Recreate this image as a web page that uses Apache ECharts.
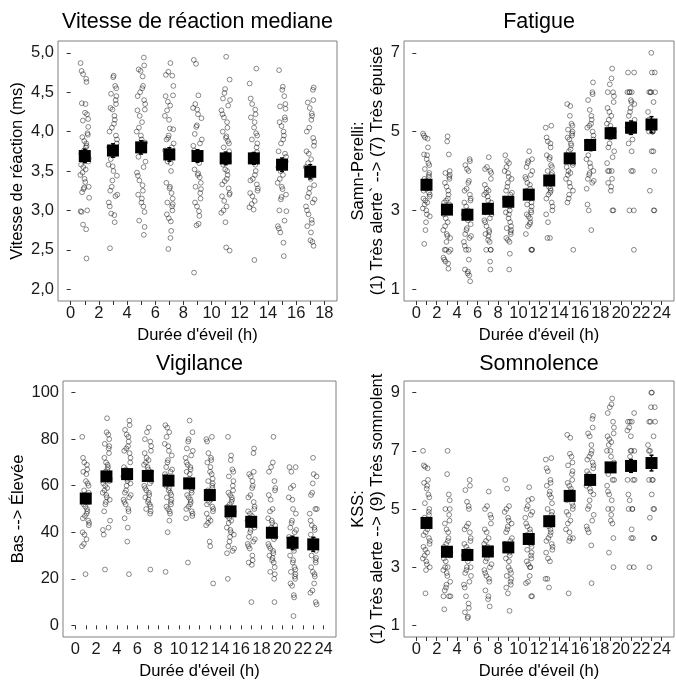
<!DOCTYPE html>
<html>
<head>
<meta charset="utf-8">
<script src="https://cdn.jsdelivr.net/npm/echarts@6/dist/echarts.min.js"></script>
<style>html,body{margin:0;padding:0;background:#fff}#c{width:676px;height:681px}</style>
</head>
<body>
<div id="c"></div>
<script>
// ---------- DATA ----------
const hoursRT = [1, 3, 5, 7, 9, 11, 13, 15, 17];
const hours = [1, 3, 5, 7, 9, 11, 13, 15, 17, 19, 21, 23];

const rtMean = [3.69, 3.76, 3.80, 3.71, 3.69, 3.66, 3.66, 3.58, 3.49];
const rtSem = [0.085, 0.085, 0.085, 0.085, 0.08, 0.08, 0.075, 0.085, 0.09];
const rtPoints = [
  [4.87,4.77,4.73,4.67,4.63,4.36,4.35,4.24,4.22,4.16,4.14,4.06,3.98,3.96,3.93,3.88,3.85,3.82,3.80,3.76,3.72,3.70,3.66,3.62,3.58,3.55,3.52,3.48,3.45,3.40,3.36,3.30,3.29,3.27,3.23,3.16,3.00,2.99,2.98,2.82,2.76,2.39],
  [4.71,4.69,4.58,4.55,4.48,4.45,4.40,4.35,4.30,4.28,4.20,4.15,4.10,4.05,4.00,3.95,3.90,3.85,3.80,3.75,3.70,3.65,3.58,3.56,3.50,3.44,3.38,3.30,3.25,3.20,3.18,3.10,3.05,2.96,2.94,2.85,2.52],
  [4.94,4.84,4.79,4.77,4.70,4.58,4.55,4.50,4.45,4.40,4.35,4.28,4.27,4.20,4.12,4.05,4.00,3.95,3.90,3.86,3.82,3.75,3.68,3.62,3.55,3.48,3.44,3.38,3.32,3.25,3.20,3.15,3.10,3.05,2.98,2.87,2.79,2.69],
  [4.87,4.76,4.72,4.71,4.58,4.46,4.45,4.38,4.33,4.27,4.20,4.15,4.04,4.03,3.95,3.92,3.90,3.85,3.80,3.76,3.70,3.62,3.60,3.50,3.35,3.30,3.28,3.22,3.15,3.10,3.08,3.05,3.00,2.95,2.90,2.86,2.74,2.65,2.51],
  [4.91,4.86,4.46,4.35,4.30,4.28,4.22,4.17,4.08,4.06,3.97,3.90,3.85,3.82,3.76,3.70,3.65,3.60,3.52,3.47,3.45,3.42,3.35,3.30,3.27,3.22,3.15,3.10,3.05,2.99,2.93,2.83,2.81,2.21],
  [4.95,4.66,4.54,4.49,4.42,4.40,4.33,4.27,4.22,4.18,4.12,4.05,4.00,3.94,3.92,3.88,3.85,3.80,3.75,3.70,3.62,3.58,3.52,3.50,3.45,3.40,3.37,3.33,3.28,3.22,3.20,3.18,3.12,3.05,3.00,2.97,2.85,2.53,2.49],
  [4.80,4.61,4.42,4.35,4.28,4.22,4.18,4.12,4.05,3.98,3.95,3.90,3.85,3.80,3.74,3.70,3.63,3.58,3.50,3.45,3.40,3.38,3.33,3.28,3.25,3.22,3.18,3.12,3.08,3.04,3.01,2.37],
  [4.78,4.57,4.53,4.45,4.35,4.32,4.29,4.18,4.15,4.12,4.07,4.00,3.95,3.90,3.85,3.75,3.72,3.68,3.62,3.55,3.50,3.45,3.40,3.35,3.30,3.27,3.20,3.17,3.14,3.00,2.99,2.87,2.80,2.77,2.72,2.59,2.42],
  [4.56,4.53,4.40,4.37,4.30,4.23,4.20,4.15,4.05,4.00,3.92,3.87,3.82,3.75,3.72,3.65,3.60,3.55,3.48,3.40,3.32,3.28,3.22,3.17,3.14,3.10,3.05,3.00,2.95,2.88,2.84,2.80,2.72,2.62,2.60,2.55]
];

const fatMean = [3.65, 3.02, 2.89, 3.04, 3.22, 3.40, 3.76, 4.32, 4.66, 4.96, 5.10, 5.18];
const fatSem = [0.1, 0.1, 0.1, 0.1, 0.1, 0.1, 0.1, 0.11, 0.13, 0.14, 0.17, 0.2];
const fatPoints = [
  [4.95,4.90,4.85,4.82,4.60,4.42,4.40,4.30,4.20,4.15,4.05,3.95,3.90,3.85,3.80,3.75,3.70,3.65,3.60,3.55,3.50,3.45,3.40,3.35,3.30,3.25,3.20,3.15,3.05,3.00,2.90,2.85,2.70,2.50,2.15],
  [4.88,4.75,4.42,4.00,3.95,3.90,3.85,3.80,3.70,3.60,3.50,3.40,3.30,3.25,3.20,3.15,3.10,3.00,2.90,2.80,2.70,2.60,2.50,2.40,2.35,2.30,2.20,2.00,2.00,2.00,1.95,1.80,1.75,1.70,1.65,1.52],
  [4.30,4.25,4.15,4.05,4.00,3.75,3.70,3.55,3.50,3.40,3.30,3.25,3.20,3.10,3.00,2.95,2.90,2.80,2.75,2.65,2.55,2.50,2.40,2.35,2.30,2.20,2.10,2.00,2.00,1.75,1.50,1.45,1.40,1.35,1.20],
  [4.35,4.10,4.05,4.00,3.95,3.80,3.65,3.55,3.50,3.45,3.40,3.35,3.25,3.20,3.10,3.00,2.95,2.90,2.80,2.75,2.70,2.60,2.50,2.45,2.40,2.35,2.25,2.20,2.00,2.00,2.00,1.70,1.50],
  [4.40,4.25,4.20,4.10,4.00,3.95,3.85,3.80,3.70,3.60,3.50,3.45,3.40,3.30,3.25,3.20,3.10,3.00,2.95,2.90,2.80,2.70,2.60,2.55,2.50,2.45,2.40,2.30,2.25,2.20,1.90,1.50],
  [4.50,4.30,4.25,4.20,4.10,4.00,3.90,3.85,3.80,3.70,3.65,3.55,3.50,3.40,3.35,3.30,3.20,3.15,3.10,3.00,2.95,2.90,2.85,2.80,2.70,2.65,2.60,2.40,2.00,2.00,2.00],
  [5.15,5.10,4.85,4.75,4.70,4.60,4.40,4.35,4.30,4.15,4.10,4.00,3.95,3.90,3.80,3.70,3.60,3.55,3.50,3.45,3.40,3.30,3.20,3.10,3.00,2.90,2.70,2.30,2.30],
  [5.70,5.65,5.40,5.20,5.15,5.05,5.00,4.95,4.90,4.85,4.80,4.70,4.65,4.55,4.50,4.40,4.30,4.20,4.15,4.10,4.00,3.95,3.90,3.80,3.70,3.60,3.50,3.40,3.30,3.20,2.00],
  [6.25,6.00,5.95,5.80,5.55,5.40,5.30,5.20,5.15,5.10,5.00,4.90,4.80,4.75,4.65,4.55,4.40,4.30,4.20,4.10,4.00,3.95,3.90,3.80,3.75,3.70,3.55,3.15,3.00,2.50],
  [6.60,6.35,6.20,6.00,6.00,5.90,5.75,5.60,5.50,5.40,5.30,5.20,5.15,5.05,5.00,4.85,4.70,4.60,4.50,4.35,4.20,4.00,4.00,4.00,3.80,3.70,3.60,3.50,3.00,3.00],
  [6.50,6.50,6.00,6.00,6.00,6.00,5.80,5.75,5.70,5.60,5.50,5.40,5.30,5.20,5.10,5.00,5.00,5.00,4.80,4.70,4.50,4.00,4.00,3.00,3.00,2.00],
  [7.00,6.50,6.50,6.00,6.00,6.00,6.00,5.75,5.50,5.30,5.20,5.00,5.00,5.00,5.00,4.50,4.50,4.00,3.50,3.00,3.00]
];

const vigMean = [54.5, 64.0, 65.0, 64.2, 62.2, 61.0, 56.0, 49.0, 44.5, 39.8, 35.5, 34.8];
const vigSem = [1.6, 1.6, 1.7, 1.5, 1.6, 1.5, 1.8, 1.7, 1.9, 2.0, 2.8, 3.0];
const vigPoints = [
  [81,72,70,69,67,66,65,62,61,60,58,57,55,53,52,51,50,49,48,47,46,45,44,43,40,39,37,35,34,22],
  [89,83,82,80,78,77,76,74,72,70,69,68,67,66,65,64,63,62,61,60,59,58,57,56,55,54,53,52,49,45,42,41,39,24],
  [88,86,84,82,81,79,77,76,75,74,72,70,68,67,66,65,64,63,62,61,60,58,57,56,55,54,53,52,50,49,46,42,36,22],
  [85,83,80,79,77,75,74,72,71,70,69,68,67,66,65,64,63,62,61,60,59,58,57,56,55,54,53,52,51,50,49,48,24],
  [86,85,83,81,78,77,75,73,71,70,68,67,66,65,64,63,62,61,60,59,58,57,56,55,54,53,52,51,50,49,48,45,40,23],
  [88,83,80,79,76,75,73,72,70,69,68,67,66,65,63,62,61,60,59,58,57,56,55,54,53,52,51,50,49,48,47,46,27],
  [81,80,79,74,72,71,70,68,66,65,63,62,61,60,59,58,57,56,55,54,53,52,51,50,49,48,46,45,44,43,36,34,18],
  [81,73,71,67,66,64,62,60,58,57,56,55,54,53,52,51,50,49,48,47,46,45,44,42,41,40,39,38,36,34,33,32,31,20],
  [76,74,66,65,64,62,60,59,56,55,53,51,50,49,48,47,46,45,44,43,42,41,40,38,37,36,35,34,33,30,28,27,26,10],
  [81,70,68,66,62,59,58,56,54,50,49,46,45,44,43,42,40,39,38,37,35,34,33,32,31,30,29,28,27,25,23,22,20,10],
  [68,68,66,60,59,55,54,50,48,45,44,42,41,40,38,37,35,33,32,30,28,27,25,24,23,22,21,20,18,17,13,12,4],
  [72,65,64,61,57,56,50,50,48,45,43,42,41,39,37,35,34,32,30,29,28,27,25,23,22,21,18,15,14,10,9]
];

const kssMean = [4.52, 3.53, 3.42, 3.54, 3.68, 3.97, 4.58, 5.45, 6.00, 6.43, 6.48, 6.58];
const kssSem = [0.15, 0.15, 0.15, 0.14, 0.14, 0.13, 0.16, 0.15, 0.16, 0.16, 0.22, 0.27];
const kssPoints = [
  [7.0,6.5,6.45,6.4,6.0,5.9,5.8,5.7,5.5,5.4,5.2,5.0,4.9,4.8,4.7,4.6,4.5,4.4,4.3,4.2,4.1,4.0,3.9,3.8,3.7,3.6,3.5,3.4,3.3,3.2,3.1,3.0,2.9,2.1],
  [7.0,6.2,5.5,5.3,5.0,5.0,4.8,4.6,4.5,4.3,4.2,4.0,3.9,3.8,3.7,3.6,3.5,3.4,3.3,3.2,3.0,3.0,2.9,2.8,2.7,2.5,2.4,2.3,2.2,2.0,2.0,2.0,1.55],
  [6.0,5.8,5.65,5.25,5.1,5.0,4.5,4.4,4.3,4.2,4.0,3.9,3.8,3.7,3.6,3.5,3.4,3.3,3.2,3.0,3.0,2.9,2.8,2.7,2.5,2.4,2.3,2.0,1.75,1.6,1.45,1.3,1.25],
  [5.6,5.1,5.0,4.8,4.7,4.5,4.3,4.2,4.0,3.9,3.8,3.7,3.6,3.5,3.4,3.3,3.2,3.1,3.0,2.9,2.8,2.7,2.6,2.5,2.2,2.0,1.9,1.65],
  [6.0,5.7,5.1,5.0,4.9,4.7,4.6,4.5,4.4,4.3,4.2,4.0,3.9,3.8,3.7,3.6,3.5,3.4,3.3,3.2,3.0,2.9,2.8,2.7,2.6,2.5,2.4,2.3,2.1,1.5],
  [5.75,5.35,5.3,5.1,5.0,4.9,4.8,4.7,4.5,4.4,4.3,4.2,4.1,4.0,3.9,3.8,3.7,3.6,3.5,3.4,3.3,3.2,3.1,3.0,3.0,2.7,2.5,2.45,2.0,2.0],
  [6.75,6.7,6.4,6.3,6.0,5.9,5.8,5.6,5.5,5.4,5.2,5.0,4.9,4.8,4.6,4.5,4.4,4.3,4.2,4.1,4.0,3.9,3.8,3.7,3.6,3.5,3.3,3.2,2.6,2.6,2.3],
  [7.55,7.45,6.9,6.8,6.6,6.5,6.3,6.2,6.0,5.9,5.8,5.7,5.6,5.5,5.4,5.3,5.2,5.1,5.0,4.9,4.8,4.6,4.5,4.3,4.2,4.0,4.0,3.9,2.1],
  [8.2,8.1,7.8,7.6,7.5,7.2,7.0,6.9,6.8,6.7,6.6,6.5,6.4,6.3,6.2,6.0,5.9,5.8,5.7,5.6,5.5,5.3,5.1,5.0,4.8,4.6,4.4,4.3,4.2,3.75,2.45],
  [8.8,8.6,8.5,8.3,8.0,7.8,7.6,7.5,7.4,7.3,7.2,7.0,7.0,6.8,6.6,6.5,6.4,6.2,6.0,6.0,5.8,5.6,5.5,5.3,5.0,5.0,4.8,4.6,4.5,4.0,3.5,3.0],
  [8.3,8.0,8.0,8.0,7.8,7.7,7.5,7.0,7.0,7.0,6.8,6.5,6.0,6.0,6.0,5.5,5.3,5.0,5.0,5.0,4.3,4.0,4.0,3.0,3.0],
  [9.0,9.0,8.5,8.5,8.0,8.0,8.0,7.5,7.2,7.0,7.0,6.5,6.0,6.0,6.0,5.5,5.0,5.0,4.7,4.0,4.0,4.0,3.0]
];

const rtTicks = [2.0, 2.5, 3.0, 3.5, 4.0, 4.5, 5.0];
const fatTicks = [1, 3, 5, 7];
const vigTicks = [0, 20, 40, 60, 80, 100];
const kssTicks = [1, 3, 5, 7, 9];
const xTicks18 = [0,1,2,3,4,5,6,7,8,9,10,11,12,13,14,15,16,17,18];
const xLabels18 = [0,2,4,6,8,10,12,14,16,18];
const xTicks24 = [0,1,2,3,4,5,6,7,8,9,10,11,12,13,14,15,16,17,18,19,20,21,22,23,24];
const xLabels24 = [0,2,4,6,8,10,12,14,16,18,20,22,24];

const titles = ['Vitesse de réaction mediane', 'Fatigue', 'Vigilance', 'Somnolence'];
const xTitle = "Durée d'éveil (h)";
const yTitles = ['Vitesse de réaction (ms)', 'Samn-Perelli:\n(1) Très alerte` --> (7) Très épuisé', 'Bas --> Élevée', 'KSS:\n(1) Très alerte --> (9) Très somnolent'];

// fixed jitter pattern (horizontal spread only)
const jitterPattern = [-0.85,0.3,-0.12,0.7,-0.45,0.15,0.82,-0.65,0.38,-0.25,0.55,-0.9,0.05,0.75,-0.35,0.22,-0.55,0.62,-0.05,0.45,-0.75,0.28,-0.2,0.88,-0.5,0.1,0.68,-0.3,0.35,-0.7,0.5,-0.1,0.8,-0.4,0.18,-0.6,0.6];

// ---------- BUILD ----------
const FONT = 'Liberation Sans, Arial, sans-serif';
function jitterData(hrs, pts, w) {
  const out = [];
  pts.forEach((grp, g) => {
    grp.forEach((v, i) => {
      const j = jitterPattern[(i * 7 + g * 5) % jitterPattern.length];
      out.push([hrs[g] + j * w, v]);
    });
  });
  return out;
}
const grids = [
  {left: 58, top: 41, width: 279, height: 260},
  {left: 404, top: 41, width: 270, height: 260},
  {left: 63, top: 381, width: 273, height: 261},
  {left: 404, top: 381, width: 270, height: 261}
];
const xExt = [[-0.9, 18.9], [-1.2, 25.2], [-1.2, 25.2], [-1.2, 25.2]];
const yExt = [[1.85, 5.15], [0.7, 7.3], [-5, 105], [0.6, 9.4]];
const yTickSets = [rtTicks, fatTicks, vigTicks, kssTicks];
const yGaps = [30, 13, 32, 13];

const xAxis = grids.map((g, k) => ({
  gridIndex: k, type: 'value', min: xExt[k][0], max: xExt[k][1],
  axisLine: {show: false}, splitLine: {show: false},
  axisTick: {show: true, length: 4, customValues: k === 0 ? xTicks18 : xTicks24, lineStyle: {color: '#333', width: 1}},
  axisLabel: {customValues: k === 0 ? xLabels18 : xLabels24, fontSize: 16.5, color: '#1a1a1a', margin: 4, fontFamily: FONT},
  name: xTitle, nameLocation: 'middle', nameGap: 26,
  nameTextStyle: {fontSize: 16.5, color: '#000', fontFamily: FONT}
}));
const yAxis = grids.map((g, k) => ({
  gridIndex: k, type: 'value', min: yExt[k][0], max: yExt[k][1],
  axisLine: {show: false}, splitLine: {show: false},
  axisTick: {show: true, length: 4, customValues: yTickSets[k], lineStyle: {color: '#333', width: 1}},
  axisLabel: {customValues: yTickSets[k], fontSize: 16.5, color: '#1a1a1a', margin: 4, fontFamily: FONT,
    formatter: k === 0 ? (v => v.toFixed(1).replace('.', ',')) : (v => String(v))},
  name: yTitles[k], nameLocation: 'middle', nameGap: yGaps[k], nameRotate: 90,
  nameTextStyle: {fontSize: 16.5, color: '#000', fontFamily: FONT, lineHeight: 19}
}));

const pointStyle = {color: 'rgba(0,0,0,0)', borderColor: 'rgba(0,0,0,0.5)', borderWidth: 0.9, opacity: 1};
function errBar(params, api) {
  const x = api.value(0);
  const lo = api.coord([x, api.value(1)]);
  const hi = api.coord([x, api.value(2)]);
  const st = {stroke: '#000', lineWidth: 1.5};
  return {type: 'group', children: [
    {type: 'line', shape: {x1: lo[0], y1: lo[1], x2: hi[0], y2: hi[1]}, style: st},
    {type: 'line', shape: {x1: lo[0] - 2, y1: lo[1], x2: lo[0] + 2, y2: lo[1]}, style: st},
    {type: 'line', shape: {x1: hi[0] - 2, y1: hi[1], x2: hi[0] + 2, y2: hi[1]}, style: st}
  ]};
}
const panels = [
  {hrs: hoursRT, pts: rtPoints, mean: rtMean, sem: rtSem, w: 0.35},
  {hrs: hours, pts: fatPoints, mean: fatMean, sem: fatSem, w: 0.4},
  {hrs: hours, pts: vigPoints, mean: vigMean, sem: vigSem, w: 0.4},
  {hrs: hours, pts: kssPoints, mean: kssMean, sem: kssSem, w: 0.4}
];
const series = [];
panels.forEach((p, k) => {
  series.push({type: 'scatter', xAxisIndex: k, yAxisIndex: k, symbol: 'circle', symbolSize: 4.8,
    itemStyle: pointStyle, data: jitterData(p.hrs, p.pts, p.w), silent: true, z: 2});
  series.push({type: 'custom', xAxisIndex: k, yAxisIndex: k, renderItem: errBar, z: 3, silent: true,
    data: p.hrs.map((h, i) => [h, p.mean[i] - p.sem[i], p.mean[i] + p.sem[i]])});
  series.push({type: 'scatter', xAxisIndex: k, yAxisIndex: k, symbol: 'rect', symbolSize: 12,
    itemStyle: {color: '#000', opacity: 1}, data: p.hrs.map((h, i) => [h, p.mean[i]]), silent: true, z: 4});
});

const titleGraphics = titles.map((t, k) => ({
  type: 'text', x: grids[k].left + grids[k].width / 2, y: k < 2 ? 22 : 364,
  style: {text: t, fontSize: 21.5, fill: '#000', fontFamily: FONT, textAlign: 'center', textVerticalAlign: 'middle'}
}));

const chart = echarts.init(document.getElementById('c'), null, {renderer: 'canvas'});
chart.setOption({
  animation: false,
  backgroundColor: '#fff',
  grid: grids.map(g => Object.assign({show: true, borderColor: '#808080', borderWidth: 1, backgroundColor: '#fff'}, g)),
  xAxis, yAxis, series,
  graphic: titleGraphics
});
</script>
</body>
</html>
